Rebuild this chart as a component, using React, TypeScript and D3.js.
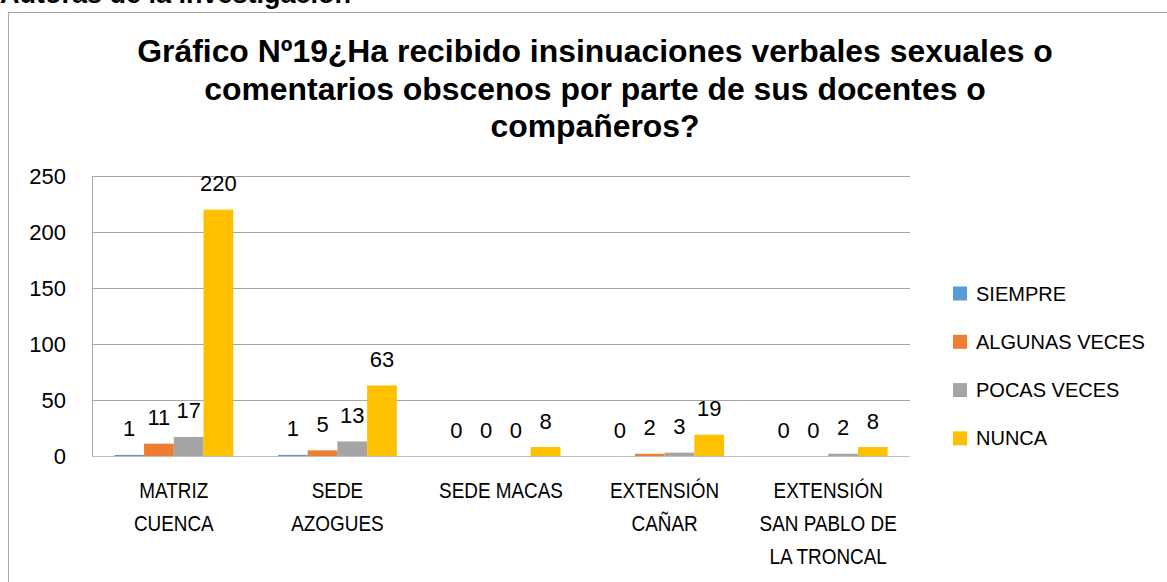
import React from "react";
import * as d3 from "d3";

// chart data
const categories = [
  "MATRIZ\nCUENCA",
  "SEDE\nAZOGUES",
  "SEDE MACAS",
  "EXTENSIÓN\nCAÑAR",
  "EXTENSIÓN\nSAN PABLO DE\nLA TRONCAL",
];
const seriesNames = ["SIEMPRE", "ALGUNAS VECES", "POCAS VECES", "NUNCA"];
const siempre = [1, 1, 0, 0, 0];
const algunasVeces = [11, 5, 0, 2, 0];
const pocasVeces = [17, 13, 0, 3, 2];
const nunca = [220, 63, 8, 19, 8];
const yTicks = [0, 50, 100, 150, 200, 250];
const titleLines = [
  "Gráfico Nº19¿Ha recibido insinuaciones verbales sexuales o",
  "comentarios obscenos por parte de sus docentes o",
  "compañeros?",
];

const colors = ["#5B9BD5", "#ED7D31", "#A5A5A5", "#FFC000"];
const font = "'Liberation Sans', Arial, sans-serif";

export default function App() {
  const W = 1167, H = 582;
  const plot = { left: 92, right: 910, top: 176, bottom: 456 };
  const allSeries = [siempre, algunasVeces, pocasVeces, nunca];

  const y = d3.scaleLinear().domain([0, 250]).range([plot.bottom, plot.top]);
  const x0 = d3.scaleBand<number>()
    .domain(d3.range(categories.length))
    .range([plot.left, plot.right])
    .paddingInner(0.273)
    .paddingOuter(0.1365);
  const x1 = d3.scaleBand<number>()
    .domain(d3.range(seriesNames.length))
    .range([0, x0.bandwidth()]);

  return (
    <svg width={W} height={H} style={{ position: "absolute", left: 0, top: 0, background: "#fff" }} fontFamily={font}>
      <rect x={0} y={0} width={W} height={H} fill="#fff" />
      {/* caption cut off at the top */}
      <text x={0} y={3} fontSize={27} fontWeight="bold" fontFamily="Arial, 'Liberation Sans', sans-serif">
        Autoras de la investigación
      </text>
      {/* chart frame */}
      <rect x={8.5} y={12.5} width={W} height={H} fill="none" stroke="#A6A6A6" strokeWidth={1} />

      {titleLines.map((t, i) => (
        <text key={i} x={595} y={62 + i * 37.5} textAnchor="middle" fontSize={31.9} fontWeight="bold"
          fontFamily="Arial, 'Liberation Sans', sans-serif" fill="#000">
          {t}
        </text>
      ))}

      {/* gridlines */}
      {yTicks.map((t) => (
        <g key={t}>
          <line x1={plot.left} x2={plot.right} y1={Math.round(y(t)) + 0.5} y2={Math.round(y(t)) + 0.5}
            stroke={t === 0 ? "#BFBFBF" : "#A6A6A6"} strokeWidth={1} />
          <text x={66} y={y(t) + 7.5} textAnchor="end" fontSize={22} fill="#000">{t}</text>
        </g>
      ))}
      <line x1={plot.left + 0.5} x2={plot.left + 0.5} y1={plot.top} y2={plot.bottom} stroke="#A6A6A6" />

      {/* bars */}
      {allSeries.map((vals, s) =>
        vals.map((v, c) => {
          const bx = (x0(c) as number) + (x1(s) as number);
          return (
            <g key={`${s}-${c}`}>
              <rect x={bx} y={y(v)} width={x1.bandwidth()} height={plot.bottom - y(v)} fill={colors[s]} />
              <text x={bx + x1.bandwidth() / 2} y={y(v) - 18.5} textAnchor="middle" fontSize={22} fill="#000">
                {v}
              </text>
            </g>
          );
        })
      )}

      {/* category labels */}
      {categories.map((c, i) => {
        const cx = (x0(i) as number) + x0.bandwidth() / 2;
        return (
          <text key={i} transform={`translate(${cx},0) scale(0.86,1)`} textAnchor="middle" fontSize={22} fill="#000">
            {c.split("\n").map((l, j) => (
              <tspan key={j} x={0} y={498.5 + j * 33}>{l}</tspan>
            ))}
          </text>
        );
      })}

      {/* legend */}
      {seriesNames.map((n, i) => {
        const ly = 293.5 + i * 48.3;
        return (
          <g key={n}>
            <rect x={953} y={ly - 7} width={14} height={14} fill={colors[i]} />
            <text x={976} y={ly + 7} fontSize={20} fill="#000">{n}</text>
          </g>
        );
      })}
    </svg>
  );
}
